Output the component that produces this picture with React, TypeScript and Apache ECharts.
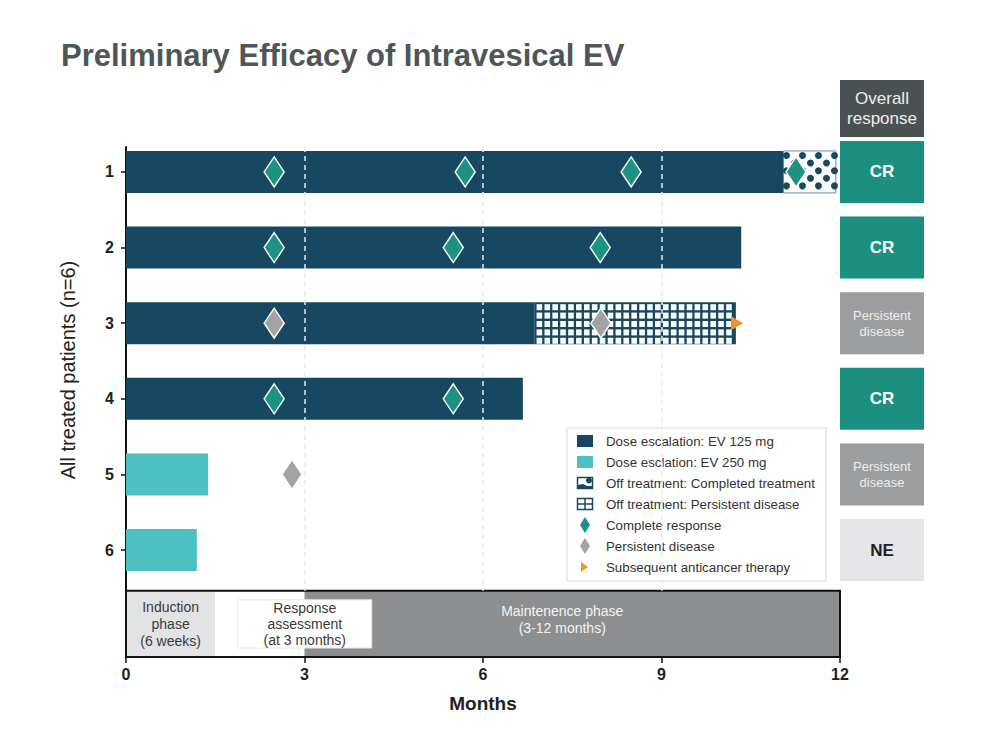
import React, { useEffect, useRef } from "react";
import * as echarts from "echarts";

// ---------- data ----------
const patients = ["1", "2", "3", "4", "5", "6"];
const patientRows = [1, 2, 3, 4, 5, 6];

// treatment segments (months)
const segRow = [1, 1, 2, 3, 3, 4, 5, 6];
const segStart = [0, 11.05, 0, 0, 6.87, 0, 0, 0];
const segEnd = [11.05, 11.93, 10.34, 6.87, 10.25, 6.67, 1.38, 1.19];
// 0 = EV 125 mg, 1 = EV 250 mg, 2 = off: completed, 3 = off: persistent disease
const segKind = [0, 2, 0, 0, 3, 0, 1, 1];

const crMonth = [2.49, 5.7, 8.49, 11.26, 2.49, 5.5, 7.97, 2.49, 5.5];
const crRow = [1, 1, 1, 1, 2, 2, 2, 4, 4];
const pdMonth = [2.49, 7.98, 2.79];
const pdRow = [3, 3, 5];
const sacMonth = [10.27];
const sacRow = [3];

const responses = ["CR", "CR", "Persistent\ndisease", "CR", "Persistent\ndisease", "NE"];

const phaseNames = ["Induction\nphase\n(6 weeks)", "", "Maintenence phase\n(3-12 months)"];
const phaseStart = [0, 1.5, 3];
const phaseEnd = [1.5, 3, 12];
const assessName = ["Response\nassessment\n(at 3 months)"];
const assessStart = [1.88];
const assessEnd = [4.13];

const guideMonths = [3, 6, 9];

const legendLabels = [
  "Dose escalation: EV 125 mg",
  "Dose esclation: EV 250 mg",
  "Off treatment: Completed treatment",
  "Off treatment: Persistent disease",
  "Complete response",
  "Persistent disease",
  "Subsequent anticancer therapy",
];

// ---------- styles ----------
const FONT = "'Liberation Sans', Arial, sans-serif";
const NAVY = "#174861";
const LTEAL = "#4dc0c3";
const TEAL = "#1c9282";
const GRAY_D = "#a3a3a3";
const ORANGE = "#f0952a";
const Y_MIN = 0.67;
const Y_MAX = 7.415;
const PHASE_TOP = 6.54;

export default function App() {
  const ref = useRef<HTMLDivElement>(null);

  useEffect(() => {
    if (!ref.current) return;
    const chart = echarts.init(ref.current, undefined, { renderer: "svg" });

    const segData = segRow.map((r, i) => [segStart[i], segEnd[i], r, segKind[i]]);

    const renderSeg = (params: any, api: any) => {
      const s = api.value(0);
      const e = api.value(1);
      const row = api.value(2);
      const kind = api.value(3);
      const p0 = api.coord([s, row]);
      const p1 = api.coord([e, row]);
      const h = api.size([0, 1])[1] * 0.555;
      const x = p0[0];
      const y = p0[1] - h / 2;
      const w = p1[0] - p0[0];
      if (kind === 0 || kind === 1) {
        return {
          type: "rect",
          shape: { x, y, width: w, height: h },
          style: { fill: kind === 0 ? NAVY : LTEAL },
        };
      }
      const children: any[] = [];
      if (kind === 2) {
        children.push({
          type: "rect",
          shape: { x, y, width: w, height: h },
          style: { fill: "#ffffff", stroke: "#6f8896", lineWidth: 1 },
        });
        let r = 0;
        for (let cy = y + 4.5; cy < y + h - 1; cy += 7.6, r++) {
          const off = r % 2 ? 8 : 0;
          for (let cx = x + 3 + off; cx < x + w - 1; cx += 16) {
            children.push({
              type: "circle",
              shape: { cx, cy, r: 3.5 },
              style: { fill: NAVY },
            });
          }
        }
      } else {
        children.push({
          type: "rect",
          shape: { x, y, width: w, height: h },
          style: { fill: NAVY },
        });
        for (let cy = y + 2; cy + 6 <= y + h; cy += 8.4) {
          for (let cx = x + 1.8; cx + 5.5 <= x + w; cx += 7.9) {
            children.push({
              type: "rect",
              shape: { x: cx, y: cy, width: 5.6, height: 6 },
              style: { fill: "#ffffff" },
            });
          }
        }
      }
      return { type: "group", children };
    };

    const phaseColors = ["#e2e3e5", "#ffffff", "#8d8e90"];
    const phaseText = ["#3a3a3a", "#3a3a3a", "#f4f4f4"];
    const renderPhase = (params: any, api: any) => {
      const i = params.dataIndex;
      const p0 = api.coord([api.value(0), PHASE_TOP]);
      const p1 = api.coord([api.value(1), Y_MAX]);
      const children: any[] = [
        {
          type: "rect",
          shape: { x: p0[0], y: p0[1], width: p1[0] - p0[0], height: p1[1] - p0[1] },
          style: { fill: phaseColors[i] },
        },
      ];
      const label = phaseNames[i];
      if (label) {
        children.push({
          type: "text",
          style: {
            x: (p0[0] + p1[0]) / 2 - (i === 2 ? 10 : 0),
            y: (p0[1] + p1[1]) / 2 - (i === 2 ? 4 : 0),
            text: label,
            align: "center",
            verticalAlign: "middle",
            fill: phaseText[i],
            fontSize: 14,
            lineHeight: 17,
            fontFamily: "'Liberation Sans Narrow', " + FONT,
          },
        });
      }
      return { type: "group", children };
    };

    const renderAssess = (params: any, api: any) => {
      const p0 = api.coord([api.value(0), PHASE_TOP]);
      const p1 = api.coord([api.value(1), Y_MAX]);
      const top = p0[1] + 9;
      const bot = p1[1] - 9;
      return {
        type: "group",
        children: [
          {
            type: "rect",
            shape: { x: p0[0], y: top, width: p1[0] - p0[0], height: bot - top },
            style: { fill: "#ffffff", stroke: "#e6e6e6", lineWidth: 1 },
          },
          {
            type: "text",
            style: {
              x: (p0[0] + p1[0]) / 2,
              y: (top + bot) / 2,
              text: assessName[params.dataIndex],
              align: "center",
              verticalAlign: "middle",
              fill: "#3a3a3a",
              fontSize: 14,
              lineHeight: 16,
              fontFamily: "'Liberation Sans Narrow', " + FONT,
            },
          },
        ],
      };
    };

    const renderFrame = (params: any, api: any) => {
      const p0 = api.coord([api.value(0), PHASE_TOP]);
      const p1 = api.coord([api.value(1), Y_MAX]);
      return {
        type: "rect",
        shape: { x: p0[0], y: p0[1], width: p1[0] - p0[0], height: p1[1] - p0[1] },
        style: { fill: "none", stroke: "#111111", lineWidth: 2 },
      };
    };

    const respFill: Record<string, string> = { CR: "#1b8f80", NE: "#e5e5e7" };
    const renderResp = (params: any, api: any) => {
      const row = api.value(1);
      const txt = responses[params.dataIndex];
      const p0 = api.coord([0, row]);
      const p1 = api.coord([1, row]);
      const h = api.size([0, 1])[1] * 0.82;
      const fill = respFill[txt] || "#9c9d9f";
      const isPD = txt.indexOf("Persistent") === 0;
      return {
        type: "group",
        children: [
          {
            type: "rect",
            shape: { x: p0[0], y: p0[1] - h / 2, width: p1[0] - p0[0], height: h },
            style: { fill },
          },
          {
            type: "text",
            style: {
              x: (p0[0] + p1[0]) / 2,
              y: p0[1],
              text: txt,
              align: "center",
              verticalAlign: "middle",
              fill: txt === "NE" ? "#222222" : isPD ? "#eeeeee" : "#ffffff",
              fontSize: isPD ? 13 : 17,
              lineHeight: 16,
              fontWeight: isPD ? "normal" : "bold",
              fontFamily: FONT,
            },
          },
        ],
      };
    };

    // legend graphic
    const lgX = 567;
    const lgY = 428;
    const legendEls: any[] = [
      {
        type: "rect",
        shape: { x: lgX, y: lgY, width: 259, height: 153 },
        style: { fill: "#ffffff", stroke: "#d9d9d9", lineWidth: 1 },
      },
    ];
    legendLabels.forEach((lab, i) => {
      const cy = 441 + i * 21;
      const ix = 577;
      if (i === 0 || i === 1) {
        legendEls.push({
          type: "rect",
          shape: { x: ix, y: cy - 6, width: 16, height: 12 },
          style: { fill: i === 0 ? NAVY : LTEAL },
        });
      } else if (i === 2) {
        legendEls.push(
          {
            type: "rect",
            shape: { x: ix + 0.5, y: cy - 5.5, width: 15, height: 11 },
            style: { fill: "#ffffff", stroke: NAVY, lineWidth: 1.5 },
          },
          { type: "circle", shape: { cx: ix + 12, cy: cy - 2.5, r: 3 }, style: { fill: NAVY } },
          {
            type: "polygon",
            shape: { points: [[ix + 1, cy + 5], [ix + 1, cy + 2], [ix + 6, cy + 1], [ix + 10, cy + 3], [ix + 15, cy + 3], [ix + 15, cy + 5]] },
            style: { fill: NAVY },
          }
        );
      } else if (i === 3) {
        legendEls.push(
          {
            type: "rect",
            shape: { x: ix + 0.5, y: cy - 5.5, width: 15, height: 11 },
            style: { fill: "#ffffff", stroke: NAVY, lineWidth: 1.5 },
          },
          { type: "line", shape: { x1: ix + 8, y1: cy - 5.5, x2: ix + 8, y2: cy + 5.5 }, style: { stroke: NAVY, lineWidth: 1.5 } },
          { type: "line", shape: { x1: ix + 0.5, y1: cy, x2: ix + 15.5, y2: cy }, style: { stroke: NAVY, lineWidth: 1.5 } }
        );
      } else if (i === 4 || i === 5) {
        const cx = ix + 8;
        legendEls.push({
          type: "polygon",
          shape: { points: [[cx, cy - 8], [cx + 5, cy], [cx, cy + 8], [cx - 5, cy]] },
          style: { fill: i === 4 ? TEAL : GRAY_D },
        });
      } else {
        legendEls.push({
          type: "polygon",
          shape: { points: [[ix + 4, cy - 5], [ix + 11, cy], [ix + 4, cy + 5]] },
          style: { fill: ORANGE },
        });
      }
      legendEls.push({
        type: "text",
        x: 606,
        y: cy,
        style: { text: lab, fill: "#333333", fontSize: 13.3, fontFamily: FONT, verticalAlign: "middle" },
      });
    });

    const option: any = {
      animation: false,
      backgroundColor: "#ffffff",
      title: {
        text: "Preliminary Efficacy of Intravesical EV",
        left: 56,
        top: 35,
        textStyle: { fontSize: 31, fontWeight: "bold", color: "#4f5658", fontFamily: FONT },
      },
      grid: [
        { left: 126, right: 156, top: 147, bottom: 91 },
        { left: 840, width: 84, top: 147, bottom: 91 },
      ],
      xAxis: [
        {
          type: "value",
          gridIndex: 0,
          min: 0,
          max: 12,
          interval: 3,
          name: "Months",
          nameLocation: "middle",
          nameGap: 37,
          nameTextStyle: { fontSize: 19, fontWeight: "bold", color: "#222", fontFamily: FONT },
          axisLine: { show: true, onZero: false, lineStyle: { color: "#111", width: 2 } },
          axisTick: { show: true, length: 6, lineStyle: { color: "#111", width: 1.5 } },
          axisLabel: { fontSize: 16, fontWeight: "bold", color: "#222", margin: 9, fontFamily: FONT },
          splitLine: { show: false },
        },
        { type: "value", gridIndex: 1, min: 0, max: 1, show: false },
      ],
      yAxis: [
        {
          type: "value",
          gridIndex: 0,
          inverse: true,
          min: Y_MIN,
          max: Y_MAX,
          axisLine: { show: true, onZero: false, lineStyle: { color: "#111", width: 2 } },
          axisTick: { show: true, length: 5, customValues: patientRows, lineStyle: { color: "#111", width: 1.5 } },
          axisLabel: {
            customValues: patientRows,
            formatter: (v: number) => patients[Math.round(v) - 1] ?? "",
            fontSize: 16,
            fontWeight: "bold",
            color: "#222",
            margin: 12,
            fontFamily: FONT,
          },
          splitLine: { show: false },
        },
        { type: "value", gridIndex: 1, inverse: true, min: Y_MIN, max: Y_MAX, show: false },
      ],
      graphic: [
        {
          type: "text",
          x: 68,
          y: 370,
          rotation: Math.PI / 2,
          style: {
            text: "All treated patients (n=6)",
            fontSize: 20,
            fill: "#222222",
            fontFamily: FONT,
            align: "center",
            verticalAlign: "middle",
          },
        },
        {
          type: "rect",
          shape: { x: 840, y: 80, width: 84, height: 57 },
          style: { fill: "#4b5052" },
        },
        {
          type: "text",
          x: 882,
          y: 108.5,
          style: {
            text: "Overall\nresponse",
            fontSize: 17,
            lineHeight: 20,
            fill: "#eeeeee",
            fontFamily: FONT,
            align: "center",
            verticalAlign: "middle",
          },
        },
        { type: "group", z: 100, children: legendEls },
      ],
      series: [
        {
          type: "custom",
          name: "Phases",
          xAxisIndex: 0,
          yAxisIndex: 0,
          z: 1,
          renderItem: renderPhase,
          data: phaseStart.map((s, i) => [s, phaseEnd[i]]),
          encode: { x: [0, 1] },
        },
        {
          type: "custom",
          name: "Assessment",
          xAxisIndex: 0,
          yAxisIndex: 0,
          z: 2,
          renderItem: renderAssess,
          data: assessStart.map((s, i) => [s, assessEnd[i]]),
          encode: { x: [0, 1] },
        },
        {
          type: "custom",
          name: "Frame",
          xAxisIndex: 0,
          yAxisIndex: 0,
          z: 3,
          renderItem: renderFrame,
          data: [[0, 12]],
          encode: { x: [0, 1] },
        },
        {
          type: "custom",
          name: "Treatment",
          xAxisIndex: 0,
          yAxisIndex: 0,
          z: 2,
          renderItem: renderSeg,
          data: segData,
          encode: { x: [0, 1], y: 2 },
        },
        {
          type: "line",
          name: "Guides",
          xAxisIndex: 0,
          yAxisIndex: 0,
          z: 4,
          data: [],
          markLine: {
            silent: true,
            symbol: "none",
            label: { show: false },
            lineStyle: { color: "#e6ebee", type: [5, 4], width: 1.5 },
            data: guideMonths.map((m) => [{ coord: [m, Y_MIN] }, { coord: [m, PHASE_TOP] }]),
          },
        },
        {
          type: "scatter",
          name: "Complete response",
          xAxisIndex: 0,
          yAxisIndex: 0,
          z: 6,
          symbol: "diamond",
          symbolSize: [20, 30],
          itemStyle: { color: TEAL, borderColor: "#ffffff", borderWidth: 1.5, opacity: 1 },
          data: crMonth.map((m, i) => [m, crRow[i]]),
        },
        {
          type: "scatter",
          name: "Persistent disease",
          xAxisIndex: 0,
          yAxisIndex: 0,
          z: 6,
          symbol: "diamond",
          symbolSize: [20, 30],
          itemStyle: { color: GRAY_D, borderColor: "#ffffff", borderWidth: 1.5, opacity: 1 },
          data: pdMonth.map((m, i) => [m, pdRow[i]]),
        },
        {
          type: "scatter",
          name: "Subsequent anticancer therapy",
          xAxisIndex: 0,
          yAxisIndex: 0,
          z: 6,
          symbol: "triangle",
          symbolRotate: -90,
          symbolSize: [14, 12],
          itemStyle: { color: ORANGE, opacity: 1 },
          data: sacMonth.map((m, i) => [m, sacRow[i]]),
        },
        {
          type: "custom",
          name: "Overall response",
          xAxisIndex: 1,
          yAxisIndex: 1,
          z: 2,
          renderItem: renderResp,
          data: responses.map((r, i) => [0, patientRows[i]]),
          encode: { x: 0, y: 1 },
        },
      ],
    };

    chart.setOption(option);
    return () => chart.dispose();
  }, []);

  return (
    <div
      ref={ref}
      style={{ position: "fixed", left: 0, top: 0, width: 996, height: 748, background: "#fff" }}
    />
  );
}
